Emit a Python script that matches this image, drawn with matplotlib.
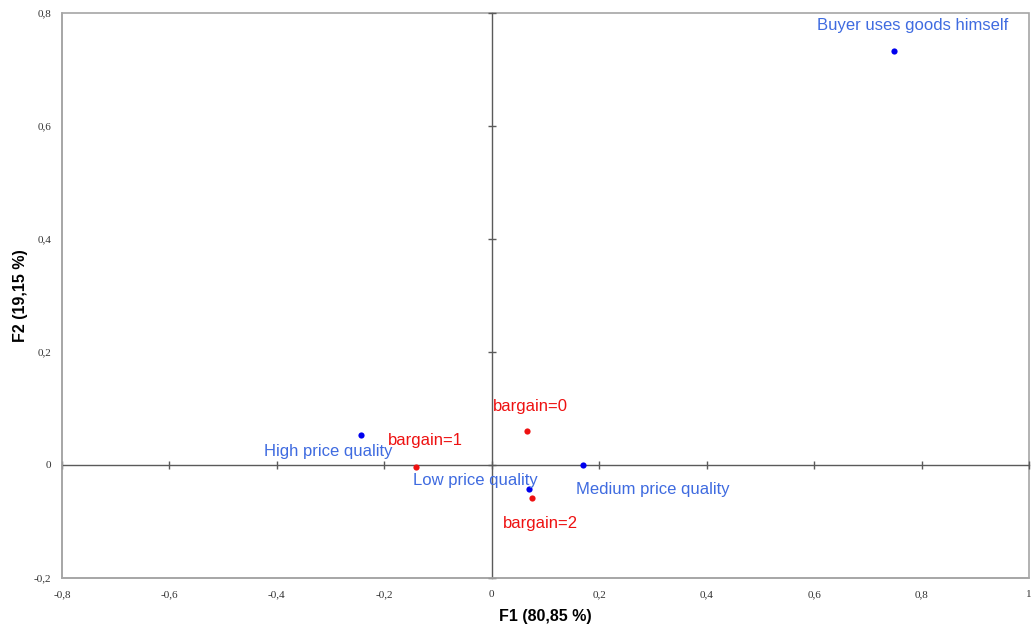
import matplotlib
matplotlib.use("Agg")
import matplotlib.pyplot as plt
from matplotlib.ticker import FuncFormatter

# Data
blue_labels = ["Buyer uses goods himself", "High price quality", "Low price quality", "Medium price quality"]
blue_f1 = [0.749, -0.243, 0.069, 0.170]
blue_f2 = [0.733, 0.053, -0.043, 0.0]

red_labels = ["bargain=0", "bargain=1", "bargain=2"]
red_f1 = [0.065, -0.141, 0.075]
red_f2 = [0.060, -0.003, -0.059]

xticks = [-0.8, -0.6, -0.4, -0.2, 0, 0.2, 0.4, 0.6, 0.8, 1]
yticks = [-0.2, 0, 0.2, 0.4, 0.6, 0.8]
xlabel = "F1 (80,85 %)"
ylabel = "F2 (19,15 %)"

# label offsets (points)
blue_offsets = [(13.5, 18.5), (-24, -12), (-38.5, 6.2), (50, -17.9)]
red_offsets = [(2.7, 18), (6.7, 19.2), (6.3, -17.8)]

fig = plt.figure(figsize=(10.34, 6.34), dpi=100)
ax = fig.add_axes([62 / 1034, 56 / 634, 967 / 1034, 565 / 634])
ax.set_xlim(-0.8, 1.0)
ax.set_ylim(-0.2, 0.8)

frame_col = "#a6a6a6"
axis_col = "#5a5a5a"

# outer frame
ax.patch.set_edgecolor(frame_col)
ax.patch.set_linewidth(1.2)
for s in ["left", "bottom"]:
    ax.spines[s].set_color(frame_col)
    ax.spines[s].set_linewidth(1.2)

# central axes through origin
ax.spines["top"].set_position(("data", 0))
ax.spines["right"].set_position(("data", 0))
for s in ["top", "right"]:
    ax.spines[s].set_color(axis_col)
    ax.spines[s].set_linewidth(1.0)
    ax.spines[s].set_zorder(1)

ax.set_xticks(xticks)
ax.set_yticks(yticks)
fmt = FuncFormatter(lambda v, p: ("%g" % round(v, 2)).replace(".", ","))
ax.xaxis.set_major_formatter(fmt)
ax.yaxis.set_major_formatter(fmt)
ax.tick_params(axis="x", bottom=False, top=True, labelbottom=True, labeltop=False,
               direction="inout", length=5.5, width=1.0, color=axis_col, pad=6)
ax.tick_params(axis="y", left=False, right=True, labelleft=True, labelright=False,
               direction="inout", length=5.5, width=1.0, color=axis_col, pad=5)
for lab in ax.get_xticklabels() + ax.get_yticklabels():
    lab.set_fontfamily("Liberation Serif")
    lab.set_fontsize(8)
    lab.set_color("#333333")

ax.set_xlabel(xlabel, fontsize=11.5, fontweight="bold", family="Liberation Sans", labelpad=7)
ax.set_ylabel(ylabel, fontsize=11.5, fontweight="bold", family="Liberation Sans", labelpad=4)

ax.scatter(blue_f1, blue_f2, s=20, color="#0000ee", zorder=5, linewidths=0)
ax.scatter(red_f1, red_f2, s=20, color="#ee1111", zorder=5, linewidths=0)

for lab, x, y, off in zip(blue_labels, blue_f1, blue_f2, blue_offsets):
    ax.annotate(lab, (x, y), xytext=off, textcoords="offset points", ha="center", va="center",
                fontsize=12, family="Liberation Sans", color="#3f6be0", zorder=6)
for lab, x, y, off in zip(red_labels, red_f1, red_f2, red_offsets):
    ax.annotate(lab, (x, y), xytext=off, textcoords="offset points", ha="center", va="center",
                fontsize=12, family="Liberation Sans", color="#ee1111", zorder=6)

fig.savefig("out.png", dpi=100)
